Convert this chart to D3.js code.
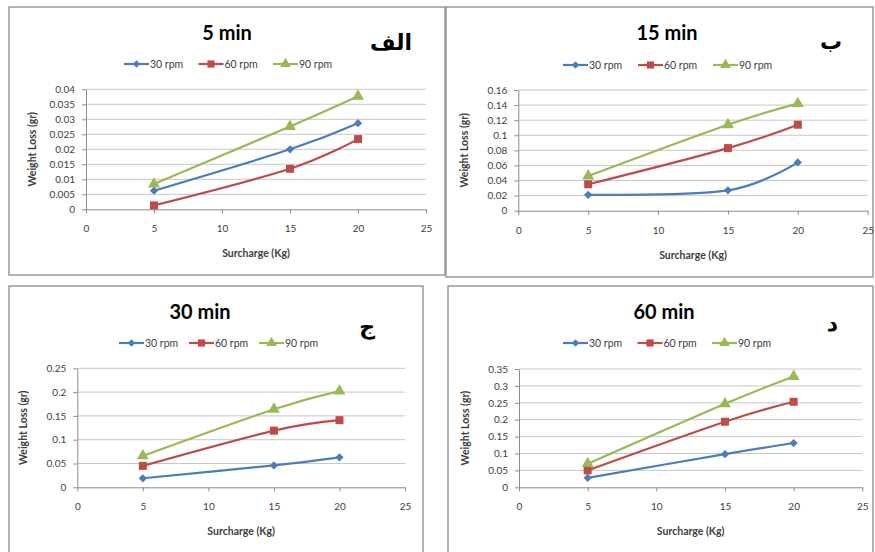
<!DOCTYPE html>
<html>
<head>
<meta charset="utf-8">
<script src="https://cdn.jsdelivr.net/npm/d3@7"></script>
<style>
  body { margin: 0; background: #fff; }
  svg { display: block; font-family: Lato, "Open Sans", sans-serif; }
</style>
</head>
<body>
<div id="chart"></div>
<script>
const width = 875;
const height = 552;

// data
const surcharge = [5, 15, 20];
const seriesNames = ["30 rpm", "60 rpm", "90 rpm"];
const xTicks = [0, 5, 10, 15, 20, 25];

const loss5min_30 = [0.0062, 0.0200, 0.0287];
const loss5min_60 = [0.0013, 0.0135, 0.0234];
const loss5min_90 = [0.0084, 0.0276, 0.0377];

const loss15min_30 = [0.021, 0.027, 0.064];
const loss15min_60 = [0.035, 0.083, 0.114];
const loss15min_90 = [0.046, 0.114, 0.142];

const loss30min_30 = [0.019, 0.046, 0.063];
const loss30min_60 = [0.045, 0.119, 0.141];
const loss30min_90 = [0.066, 0.164, 0.202];

const loss60min_30 = [0.028, 0.098, 0.131];
const loss60min_60 = [0.050, 0.194, 0.253];
const loss60min_90 = [0.070, 0.247, 0.328];

const yTicks5 = [0, 0.005, 0.01, 0.015, 0.02, 0.025, 0.03, 0.035, 0.04];
const yTicks15 = [0, 0.02, 0.04, 0.06, 0.08, 0.1, 0.12, 0.14, 0.16];
const yTicks30 = [0, 0.05, 0.1, 0.15, 0.2, 0.25];
const yTicks60 = [0, 0.05, 0.1, 0.15, 0.2, 0.25, 0.3, 0.35];

const titles = ["5 min", "15 min", "30 min", "60 min"];
const letters = ["الف", "ب", "ج", "د"];

const colors = ["#4A7EBB", "#BE4B48", "#98B954"];
// diamond = square turned 45deg (Excel style), then square, triangle
const symbols = [d3.symbolSquare, d3.symbolSquare, d3.symbolTriangle];
const symbolRot = [45, 0, 0];
const symbolSizes = [34, 64, 62];

// panel layout
const panels = [
  { frame: [9, 7, 445, 275], plot: [86, 89.3, 426, 209.3], title: [227, 40], letter: [412, 50], legend: [124, 64, 74.5],
    yTicks: yTicks5, series: [loss5min_30, loss5min_60, loss5min_90] },
  { frame: [446, 7, 873, 277], plot: [518.3, 90, 867.7, 210.7], title: [667, 40], letter: [842, 49], legend: [563, 65, 75],
    yTicks: yTicks15, series: [loss15min_30, loss15min_60, loss15min_90] },
  { frame: [9, 286, 423, 560], plot: [77.3, 368.3, 405, 487.3], title: [200, 319], letter: [375, 334], legend: [119, 343, 70],
    yTicks: yTicks30, series: [loss30min_30, loss30min_60, loss30min_90] },
  { frame: [448, 286, 873, 560], plot: [519, 369, 862.3, 487.3], title: [664, 319], letter: [838, 331], legend: [563, 343, 74.5],
    yTicks: yTicks60, series: [loss60min_30, loss60min_60, loss60min_90] }
];

const svg = d3.select("#chart")
  .append("svg")
  .attr("width", width)
  .attr("height", height)
  .attr("viewBox", [0, 0, width, height]);

panels.forEach(function (p, pi) {
  const g = svg.append("g");

  // frame
  g.append("rect")
    .attr("x", p.frame[0])
    .attr("y", p.frame[1])
    .attr("width", p.frame[2] - p.frame[0])
    .attr("height", p.frame[3] - p.frame[1])
    .attr("fill", "none")
    .attr("stroke", "#8a8a8a")
    .attr("stroke-width", 1.3);

  var x = d3.scaleLinear().domain([0, 25]).range([p.plot[0], p.plot[2]]);
  var yMax = p.yTicks[p.yTicks.length - 1];
  var y = d3.scaleLinear().domain([0, yMax]).range([p.plot[3], p.plot[1]]);

  // gridlines
  g.append("g")
    .selectAll("line")
    .data(p.yTicks.slice(1))
    .enter()
    .append("line")
    .attr("x1", p.plot[0])
    .attr("x2", p.plot[2])
    .attr("y1", d => y(d))
    .attr("y2", d => y(d))
    .attr("stroke", "#c8c8c8")
    .attr("stroke-width", 1);

  // y axis
  var yAxis = g.append("g")
    .attr("transform", "translate(" + p.plot[0] + ",0)")
    .call(d3.axisLeft(y).tickValues(p.yTicks).tickFormat(d => String(+d.toFixed(4))).tickSizeInner(4).tickSizeOuter(0).tickPadding(7));

  // x axis
  var xAxis = g.append("g")
    .attr("transform", "translate(0," + p.plot[3] + ")")
    .call(d3.axisBottom(x).tickValues(xTicks).tickSizeInner(4).tickSizeOuter(0).tickPadding(12));

  [yAxis, xAxis].forEach(function (a) {
    a.select(".domain").attr("stroke", "#8c8c8c");
    a.selectAll(".tick line").attr("stroke", "#8c8c8c");
    a.selectAll(".tick text")
      .attr("fill", "#404040")
      .style("font-size", "10px")
      .style("font-family", "Lato, sans-serif");
  });

  // series
  var line = d3.line()
    .x((d, i) => x(surcharge[i]))
    .y(d => y(d))
    .curve(d3.curveCatmullRom.alpha(0));

  p.series.forEach(function (vals, si) {
    g.append("path")
      .attr("d", line(vals))
      .attr("fill", "none")
      .attr("stroke", colors[si])
      .attr("stroke-width", 2.2);
    g.selectAll(".m" + si)
      .data(vals)
      .enter()
      .append("path")
      .attr("d", d3.symbol().type(symbols[si]).size(symbolSizes[si]))
      .attr("transform", (d, i) => "translate(" + x(surcharge[i]) + "," + y(d) + ") rotate(" + symbolRot[si] + ")")
      .attr("fill", colors[si]);
  });

  // title
  g.append("text")
    .attr("x", p.title[0])
    .attr("y", p.title[1])
    .attr("text-anchor", "middle")
    .style("font-size", "20px")
    .style("font-weight", "bold")
    .text(titles[pi]);

  // arabic panel letter
  g.append("text")
    .attr("x", p.letter[0])
    .attr("y", p.letter[1])
    .attr("text-anchor", "end")
    .style("font-family", "'DejaVu Sans', sans-serif")
    .style("font-size", "22px")
    .style("font-weight", "bold")
    .text(letters[pi]);

  // legend
  seriesNames.forEach(function (name, si) {
    var lx = p.legend[0] + si * p.legend[2];
    var ly = p.legend[1];
    g.append("line")
      .attr("x1", lx).attr("x2", lx + 25)
      .attr("y1", ly).attr("y2", ly)
      .attr("stroke", colors[si])
      .attr("stroke-width", 2.2);
    g.append("path")
      .attr("d", d3.symbol().type(symbols[si]).size(symbolSizes[si] * 0.8))
      .attr("transform", "translate(" + (lx + 12.5) + "," + ly + ") rotate(" + symbolRot[si] + ")")
      .attr("fill", colors[si]);
    g.append("text")
      .attr("x", lx + 26)
      .attr("y", ly + 3.5)
      .attr("fill", "#404040")
      .style("font-size", "10.5px")
      .text(name);
  });

  // axis titles
  g.append("text")
    .attr("x", (p.plot[0] + p.plot[2]) / 2)
    .attr("y", p.plot[3] + 48)
    .attr("text-anchor", "middle")
    .attr("fill", "#404040")
    .style("font-size", "10.5px")
    .style("font-weight", "bold")
    .text("Surcharge (Kg)");

  g.append("text")
    .attr("transform", "translate(" + (p.plot[0] - 50.5) + "," + ((p.plot[1] + p.plot[3]) / 2) + ") rotate(-90)")
    .attr("text-anchor", "middle")
    .attr("fill", "#404040")
    .style("font-size", "10.5px")
    .style("font-weight", "bold")
    .text("Weight Loss (gr)");
});
</script>
</body>
</html>
